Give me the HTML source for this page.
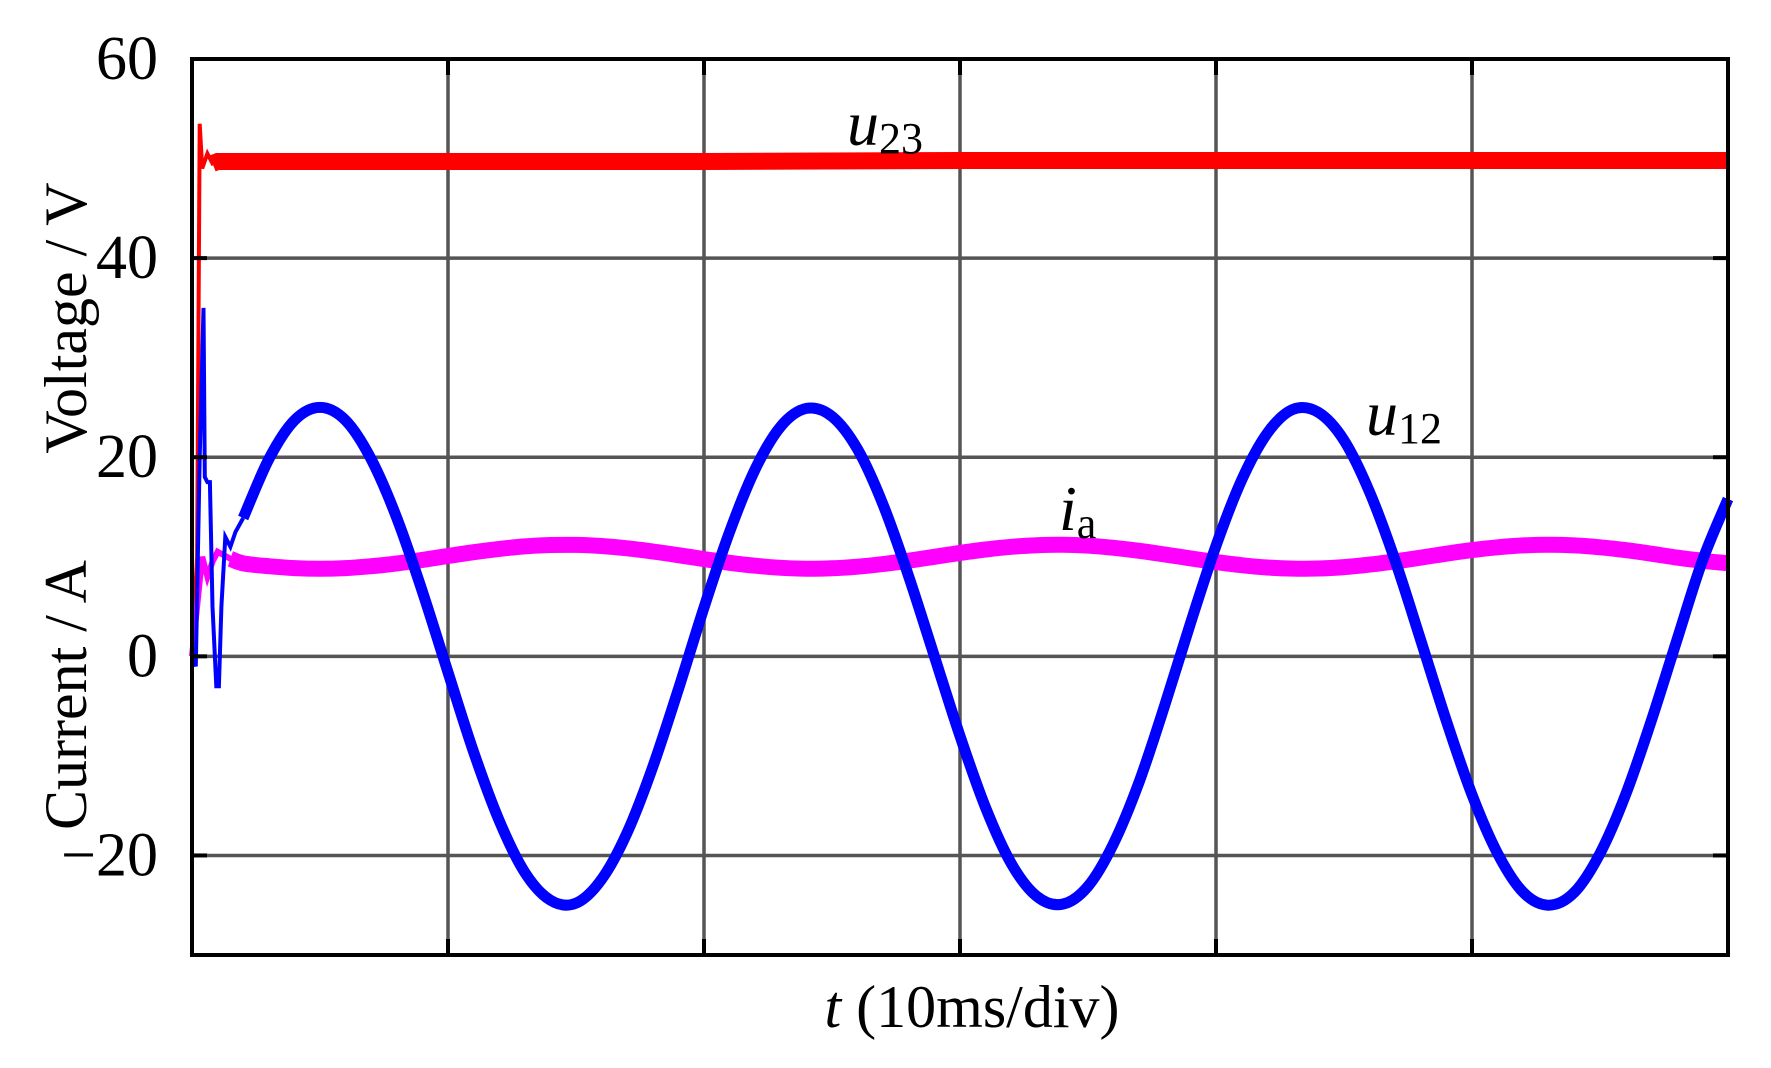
<!DOCTYPE html>
<html><head><meta charset="utf-8"><style>
html,body{margin:0;padding:0;background:#fff;}
svg{display:block;}
text{font-family:"Liberation Serif",serif;fill:#000;}
</style></head><body>
<svg id="chart" width="1771" height="1068" viewBox="0 0 1771 1068" xmlns="http://www.w3.org/2000/svg">
<g id="grid"></g>
<g id="series"></g>
<g id="axes"></g>
<text transform="translate(86,318) rotate(-90)" font-size="60" text-anchor="middle">Voltage / V</text>
<text transform="translate(86,695) rotate(-90)" font-size="60" text-anchor="middle">Current / A</text>
<text x="972" y="1027" font-size="60" text-anchor="middle"><tspan font-style="italic">t</tspan> (10ms/div)</text>
<text x="847" y="145" font-size="64"><tspan font-style="italic">u</tspan><tspan font-size="44" dy="8">23</tspan></text>
<text x="1366" y="435" font-size="64"><tspan font-style="italic">u</tspan><tspan font-size="44" dy="8">12</tspan></text>
<text x="1059" y="530" font-size="64"><tspan font-style="italic">i</tspan><tspan font-size="44" dy="8">a</tspan></text>
</svg>
<script>
// ---- data ----
const yTicks = [60, 40, 20, 0, -20];
const xDivs = [0, 10, 20, 30, 40, 50, 60];
const u23T = [0, 0.2, 0.3, 0.4, 0.6, 0.8, 1, 10, 20, 30, 40, 50, 60];
const u23V = [0, 10, 53.5, 49, 50.5, 49.5, 49.7, 49.7, 49.7, 49.8, 49.8, 49.8, 49.8];
const u12TransT = [0, 0.15, 0.3, 0.45, 0.5, 0.6, 0.7, 0.8, 0.95, 1.05, 1.15, 1.3, 1.5, 1.7, 2];
const u12TransV = [0, -1, 20, 35, 18, 17.5, 17.5, 5, -3, -3, 5, 12, 11, 12.5, 13.9];
const u12T = [2,3,4,5,6,7,8,9,10,11,12,13,14,15,16,17,18,19,20,21,22,23,24,25,26,27,28,29,30,31,32,33,34,35,36,37,38,39,40,41,42,43,44,45,46,47,48,49,50,51,52,53,54,55,56,57,58,59,60];
const u12V = [13.9,19.8,23.7,25,23.7,19.8,13.9,6.5,-1.6,-9.6,-16.5,-21.7,-24.5,-24.8,-22.4,-17.7,-11.1,-3.3,4.9,12.5,18.8,23.1,24.9,24.1,20.8,15.2,8.0,0,-8.0,-15.2,-20.8,-24.1,-24.9,-23.1,-18.8,-12.6,-4.9,3.3,11.1,17.7,22.4,24.8,24.5,21.7,16.5,9.6,1.6,-6.5,-13.9,-19.8,-23.7,-25,-23.7,-19.8,-13.9,-6.5,1.6,9.6,15.8];
const iaT = [0,0.2,0.4,0.6,0.8,1,1.5,2,3,4,5,6,7,8,9,10,11,12,13,14,15,16,17,18,19,20,21,22,23,24,25,26,27,28,29,30,31,32,33,34,35,36,37,38,39,40,41,42,43,44,45,46,47,48,49,50,51,52,53,54,55,56,57,58,59,60];
const iaV = [0,5,10,8,9.5,10.5,9.8,9.33,9.05,8.86,8.8,8.86,9.05,9.33,9.69,10.08,10.46,10.79,11.04,11.18,11.19,11.08,10.85,10.53,10.16,9.77,9.4,9.1,8.89,8.8,8.84,9.0,9.27,9.61,10,10.39,10.73,11.0,11.16,11.2,11.11,10.9,10.6,10.23,9.84,9.47,9.15,8.92,8.81,8.82,8.96,9.21,9.54,9.92,10.31,10.67,10.95,11.14,11.2,11.14,10.95,10.67,10.31,9.92,9.6,9.35];

// ---- scales ----
const X0 = 192, X1 = 1728, Y0 = 59, Y1 = 955;
const xs = t => X0 + (t - 0) / 60 * (X1 - X0);
const ys = v => Y1 - (v - (-30)) / 90 * (Y1 - Y0);
const NS = 'http://www.w3.org/2000/svg';
function mk(tag, parent, attrs) {
  const e = document.createElementNS(NS, tag);
  for (const k in attrs) e.setAttribute(k, attrs[k]);
  parent.appendChild(e);
  return e;
}
function linePath(T, V) {
  return T.map((t, i) => (i ? 'L' : 'M') + xs(t).toFixed(1) + ',' + ys(V[i]).toFixed(1)).join('');
}
function smoothPath(T, V) {
  const P = T.map((t, i) => [xs(t), ys(V[i])]);
  let d = 'M' + P[0][0].toFixed(1) + ',' + P[0][1].toFixed(1);
  for (let i = 0; i < P.length - 1; i++) {
    const p0 = P[Math.max(0, i - 1)], p1 = P[i], p2 = P[i + 1], p3 = P[Math.min(P.length - 1, i + 2)];
    const c1 = [p1[0] + (p2[0] - p0[0]) / 6, p1[1] + (p2[1] - p0[1]) / 6];
    const c2 = [p2[0] - (p3[0] - p1[0]) / 6, p2[1] - (p3[1] - p1[1]) / 6];
    d += 'C' + c1.map(v => v.toFixed(1)) + ' ' + c2.map(v => v.toFixed(1)) + ' ' + p2[0].toFixed(1) + ',' + p2[1].toFixed(1);
  }
  return d;
}
const grid = document.getElementById('grid');
const series = document.getElementById('series');
const axes = document.getElementById('axes');

yTicks.forEach(v => {
  const l = mk('line', grid, {x1: X0, x2: X1, y1: ys(v), y2: ys(v), stroke: '#555', 'stroke-width': 3.5});
  
  
  const tk = mk('line', axes, {x1: X0, x2: X0 + 15, y1: ys(v), y2: ys(v), stroke: '#000', 'stroke-width': 4});
  
  
  const tk2 = mk('line', axes, {x1: X1 - 15, x2: X1, y1: ys(v), y2: ys(v), stroke: '#000', 'stroke-width': 4});
  
  
  const tx = mk('text', axes, {x: 158, y: ys(v) + 20, 'font-size': 62, 'text-anchor': 'end'});
  tx.textContent = v < 0 ? '\u2212' + Math.abs(v) : String(v);
  
  
});
xDivs.forEach(t => {
  const l = mk('line', grid, {x1: xs(t), x2: xs(t), y1: Y0, y2: Y1, stroke: '#555', 'stroke-width': 3.5});
  
  
  const tk = mk('line', axes, {x1: xs(t), x2: xs(t), y1: Y1 - 16, y2: Y1, stroke: '#000', 'stroke-width': 4});
  
  
  const tk2 = mk('line', axes, {x1: xs(t), x2: xs(t), y1: Y0, y2: Y0 + 16, stroke: '#000', 'stroke-width': 4});
  
  
});

const red = mk('path', series, {d: linePath(u23T.slice(0, 7), u23V.slice(0, 7)), fill: 'none', stroke: '#ff0000', 'stroke-width': 4});


const red2 = mk('path', series, {d: linePath(u23T.slice(5), u23V.slice(5)), fill: 'none', stroke: '#ff0000', 'stroke-width': 17});



const mg1 = mk('path', series, {d: linePath(iaT.slice(0, 8), iaV.slice(0, 8)), fill: 'none', stroke: '#ff00ff', 'stroke-width': 6});


const mg = mk('path', series, {d: smoothPath(iaT.slice(6), iaV.slice(6)), fill: 'none', stroke: '#ff00ff', 'stroke-width': 16});



const bl1 = mk('path', series, {d: linePath(u12TransT, u12TransV), fill: 'none', stroke: '#0000ff', 'stroke-width': 4});


const bl = mk('path', series, {d: smoothPath(u12T, u12V), fill: 'none', stroke: '#0000ff', 'stroke-width': 11});



const frame = mk('rect', axes, {x: X0, y: Y0, width: X1 - X0, height: Y1 - Y0, fill: 'none', stroke: '#000', 'stroke-width': 4});


</script>
</body></html>
